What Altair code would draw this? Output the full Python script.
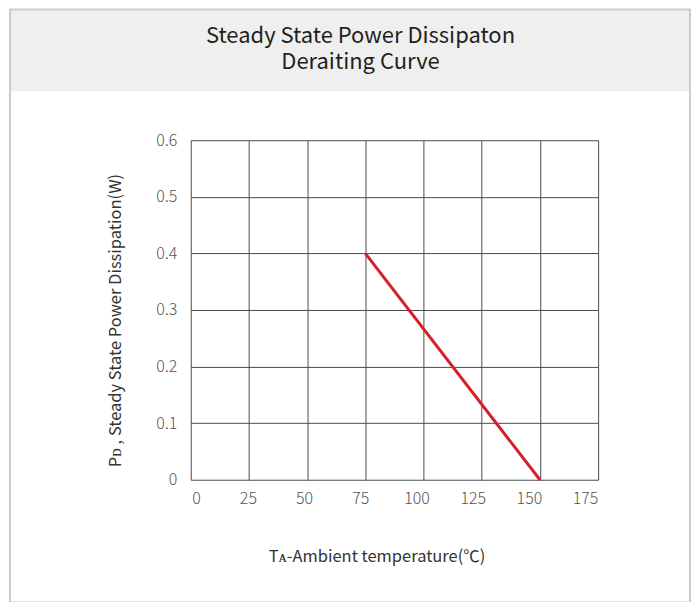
import altair as alt
import pandas as pd

# ---- data ----
temps = [75, 150]
power = [0.4, 0.0]
x_ticks = [0, 25, 50, 75, 100, 125, 150, 175]
y_ticks = [0, 0.1, 0.2, 0.3, 0.4, 0.5, 0.6]
title_lines = ["Steady State Power Dissipaton", "Deraiting Curve"]
x_title = "Tᴀ-Ambient temperature(℃)"
y_title = "Pᴅ , Steady State Power Dissipation(W)"

FONT = "Noto Sans CJK SC"
W, H = 408, 340
PAD_L, PAD_T, PAD_R, PAD_B = 183, 132, 93, 122

df = pd.DataFrame({"temp": temps, "power": power})
ticks_df = pd.DataFrame({"tick": x_ticks})
one = pd.DataFrame({"k": [0]})

band = alt.Chart(one).mark_rect(color="#efefef").encode(
    x=alt.value(-181), x2=alt.value(500), y=alt.value(-131), y2=alt.value(-49)
)
border = alt.Chart(one).mark_rect(fillOpacity=0, stroke="#cccccc", strokeWidth=2).encode(
    x=alt.value(-181), x2=alt.value(500), y=alt.value(-131), y2=alt.value(463)
)

# grid scale + curve
line = alt.Chart(df).mark_line(color="#d42027", strokeWidth=3).encode(
    x=alt.X(
        "temp:Q",
        scale=alt.Scale(domain=[0, 175], nice=False),
        axis=alt.Axis(values=x_ticks, labels=False, title=None, orient="bottom"),
    ),
    y=alt.Y(
        "power:Q",
        scale=alt.Scale(domain=[0, 0.6], nice=False),
        axis=alt.Axis(
            values=y_ticks, format=".1~f", title=y_title, titleY=180,
            labelPadding=14, titlePadding=32,
        ),
    ),
)

# tick labels as printed in the reference (slightly tighter spacing than the grid)
labels = alt.Chart(ticks_df).mark_rule(opacity=0).encode(
    x=alt.X(
        "tick:Q",
        scale=alt.Scale(domain=[-0.44, 180.8], nice=False, zero=False),
        axis=alt.Axis(
            values=x_ticks, format="d", title=x_title, titleX=186, orient="bottom",
            grid=False, labelPadding=11, titlePadding=42,
        ),
    ),
)

chart = (
    alt.layer(band, border, line, labels)
    .resolve_scale(x="independent")
    .properties(
        width=W,
        height=H,
        autosize=alt.AutoSizeParams(type="none"),
        padding={"left": PAD_L, "top": PAD_T, "right": PAD_R, "bottom": PAD_B},
        title=alt.TitleParams(
            text=title_lines, anchor="middle", dx=-34, offset=-66,
            font=FONT, fontSize=22, fontWeight="normal", color="#231f20",
            lineHeight=26,
        ),
    )
    .configure_view(strokeWidth=0)
    .configure_axis(
        grid=True, gridColor="#4a4a4a", gridOpacity=1, gridWidth=1,
        domain=False, ticks=False,
        labelFont=FONT, labelFontSize=16, labelFontWeight=300, labelColor="#555555",
        titleFont=FONT, titleFontSize=16.5, titleColor="#333333", titleFontWeight="normal",
    )
)

chart.save("out.html", embed_options={"renderer": "svg", "actions": False})
